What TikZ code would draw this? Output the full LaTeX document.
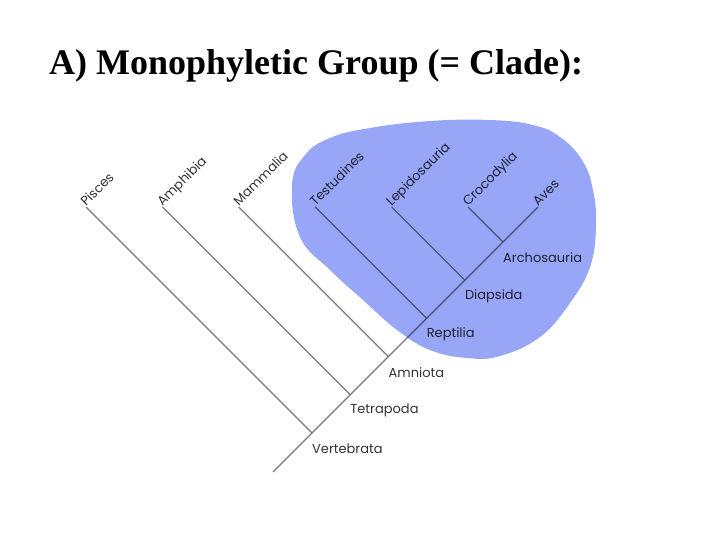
\documentclass[tikz,border=0pt]{standalone}
\usepackage{fontspec}
\setmainfont{Liberation Serif}
\newfontfamily\cladefont{Poppins}
\usetikzlibrary{positioning}
\definecolor{CladeBlue}{HTML}{98A6F8}
\definecolor{BranchGrey}{HTML}{7A7A7A}
\definecolor{LabelGrey}{HTML}{333333}

\begin{document}
\begin{tikzpicture}[x=1pt,y=1pt,
    branch/.style={draw=BranchGrey,line width=1.2pt},
    tip/.style={font=\cladefont\fontsize{13}{15}\selectfont,text=LabelGrey,
                rotate=45,anchor=base west,inner sep=0pt},
    clade/.style={font=\cladefont\fontsize{13}{15}\selectfont,text=LabelGrey,
                anchor=west,inner sep=0pt}]
  \useasboundingbox (0,0) rectangle (720,-540);
  \node[font=\bfseries\fontsize{36}{40}\selectfont,anchor=base west,inner sep=0pt]
    (title) at (49,-75) {A) Monophyletic Group (= Clade):};
  % spine
  \coordinate (root) at (273,-472);
  \coordinate (vert) at (312,-433);
  \coordinate[above right=38.2pt and 38.2pt of vert] (tetra);
  \coordinate[above right=38.2pt and 38.2pt of tetra] (amnio);
  \coordinate[above right=38.2pt and 38.2pt of amnio] (rept);
  \coordinate[above right=38.2pt and 38.2pt of rept] (diap);
  \coordinate[above right=38.2pt and 38.2pt of diap] (archo);
  % tips
  \node[tip] (pisces) at (86,-207) {Pisces};
  \node[tip] (amphib) at (162.4,-207) {Amphibia};
  \node[tip] (mammal) at (238.8,-207) {Mammalia};
  \node[tip] (testud) at (315.2,-207) {Testudines};
  \node[tip] (lepido) at (391.6,-207) {Lepidosauria};
  \node[tip] (croco) at (468,-207) {Crocodylia};
  \node[tip] (aves) at (538,-207) {Aves};
  % branches
  \draw[branch] (root) -- (aves.base west);
  \draw[branch] (vert) -- (pisces.base west);
  \draw[branch] (tetra) -- (amphib.base west);
  \draw[branch] (amnio) -- (mammal.base west);
  \draw[branch] (rept) -- (testud.base west);
  \draw[branch] (diap) -- (lepido.base west);
  \draw[branch] (archo) -- (croco.base west);
  % clade names
  \node[clade] (vertl) at ([yshift=-16pt]vert) {Vertebrata};
  \node[clade] (tetral) at ([yshift=-16pt]tetra) {Tetrapoda};
  \node[clade] (amniol) at ([yshift=-16pt]amnio) {Amniota};
  \node[clade] (reptl) at ([yshift=-16pt]rept) {Reptilia};
  \node[clade] (diapl) at ([yshift=-16pt]diap) {Diapsida};
  \node[clade] (archol) at ([yshift=-16pt]archo) {Archosauria};
  % the clade blob
  \fill[CladeBlue,blend mode=multiply] plot[smooth cycle,tension=0.7] coordinates {
    (292,-185) (300,-237) (330,-270) (363,-300) (397,-330) (430,-350)
    (467,-358) (500,-356) (540,-337) (570,-303) (590,-267) (596,-227)
    (593,-190) (582,-160) (560,-137) (533,-125) (490,-120) (430,-121)
    (370,-128) (330,-138) (305,-155)};
\end{tikzpicture}
\end{document}
